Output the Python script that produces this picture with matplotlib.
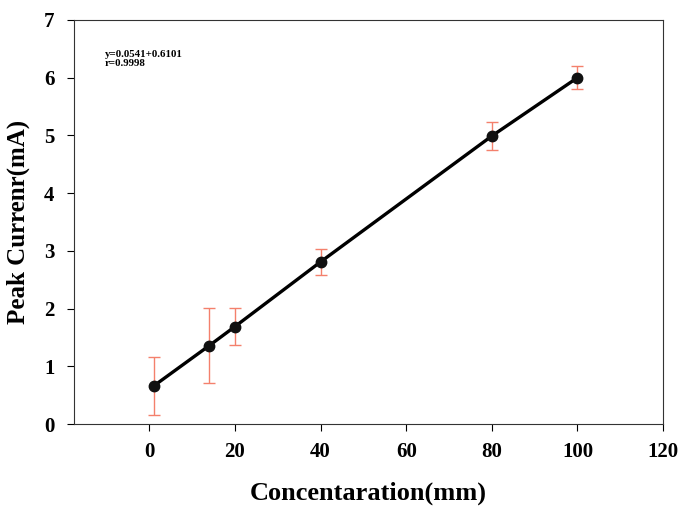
import matplotlib
matplotlib.use("Agg")
import matplotlib.pyplot as plt

concentration = [1, 14, 20, 40, 80, 100]
current = [0.66, 1.36, 1.69, 2.81, 4.99, 6.0]
error = [0.50, 0.65, 0.32, 0.22, 0.245, 0.20]
x_ticks = [0, 20, 40, 60, 80, 100, 120]
y_ticks = [0, 1, 2, 3, 4, 5, 6, 7]

plt.rcParams['font.family'] = ['Liberation Serif', 'DejaVu Serif']
plt.rcParams['font.weight'] = 'bold'

fig = plt.figure(figsize=(6.85, 5.11), dpi=100)
ax = fig.add_axes([0.108, 0.170, 0.860, 0.791])

ax.errorbar(concentration, current, yerr=error, fmt='none', ecolor='#f4806c',
            elinewidth=1.0, capsize=4.5, capthick=1.0, zorder=2)
ax.plot(concentration, current, color='black', linewidth=2.4, marker='o',
        markersize=7.5, markerfacecolor='#111111', markeredgecolor='#111111', zorder=3)

ax.set_xlim(-17.6, 120)
ax.set_ylim(0, 7)
ax.set_xticks(x_ticks)
ax.set_yticks(y_ticks)
ax.tick_params(axis='both', which='both', direction='out', length=5, width=0.8,
               labelsize=15, top=False, right=False)
ax.tick_params(axis='y', pad=9)
ax.tick_params(axis='x', pad=8)
for lab in ax.get_xticklabels() + ax.get_yticklabels():
    lab.set_fontweight('bold')
for s in ax.spines.values():
    s.set_linewidth(0.8)
    s.set_color('#333333')

ax.set_xlabel('Concentaration(mm)', fontsize=19, fontweight='bold', labelpad=14)
ax.set_ylabel('Peak Currenr(mA)', fontsize=18, fontweight='bold', labelpad=10)

ax.text(0.052, 0.925, 'y=0.0541+0.6101\nr=0.9998', transform=ax.transAxes,
        fontsize=7.8, fontweight='bold', va='top', ha='left', linespacing=0.95)

fig.savefig('out.png', dpi=100)
